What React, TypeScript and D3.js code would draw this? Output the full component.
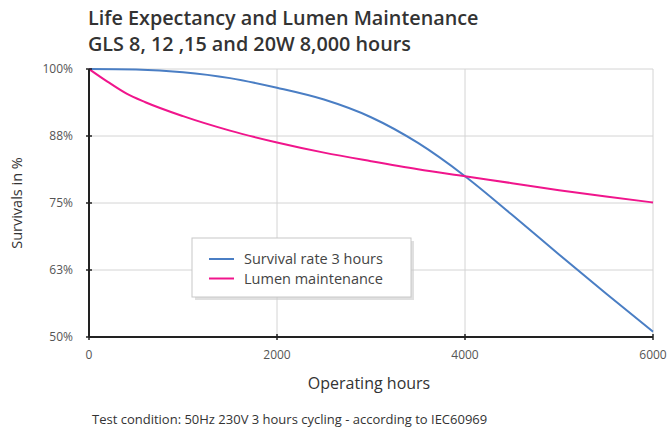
import * as d3 from "d3";
import { useRef, useEffect } from "react";

// hours on the x axis
const survivalHours = [0, 500, 1000, 1500, 2000, 2500, 3000, 3500, 4000, 4500, 5000, 5500, 6000];
const survivalPct = [100, 99.9, 99.4, 98.3, 96.5, 94.3, 91.0, 86.2, 80, 72.8, 65.4, 58.1, 51];

const lumenHours = [0, 200, 400, 600, 1000, 1500, 2000, 2500, 3000, 3500, 4000, 4500, 5000, 5500, 6000];
const lumenPct = [100, 97.6, 95.4, 93.8, 91.2, 88.5, 86.3, 84.4, 82.8, 81.3, 80, 78.7, 77.4, 76.2, 75.1];

const yTicks = [50, 62.5, 75, 87.5, 100];
const xTicks = [0, 2000, 4000, 6000];
const legendLabels = ["Survival rate 3 hours", "Lumen maintenance"];
const seriesColors = ["#4a7ec4", "#f0158c"];

const FONT = "'Open Sans', Lato, sans-serif";

export default function App() {
  const svgRef = useRef<SVGSVGElement | null>(null);

  useEffect(() => {
    const svg = d3.select(svgRef.current);
    svg.selectAll("*").remove();

    const W = 668;
    const H = 429;
    const left = 89, right = 653, top = 69, bottom = 337;

    svg.attr("viewBox", `0 0 ${W} ${H}`).attr("font-family", FONT);
    svg.append("rect").attr("width", W).attr("height", H).attr("fill", "#fff");

    const x = d3.scaleLinear().domain([0, 6000]).range([left, right]);
    const y = d3.scaleLinear().domain([50, 100]).range([bottom, top]);

    // title
    const title = svg.append("g").attr("fill", "#333").attr("font-size", 19.8).attr("font-weight", 600);
    title.append("text").attr("x", 88).attr("y", 25).text("Life Expectancy and Lumen Maintenance");
    title.append("text").attr("x", 88).attr("y", 51).text("GLS 8, 12 ,15 and 20W 8,000 hours");

    // grid
    const grid = svg.append("g").attr("stroke", "#d4d4d4").attr("stroke-width", 1);
    grid.selectAll("line.h")
      .data(yTicks.filter(v => v > 50))
      .join("line")
      .attr("class", "h")
      .attr("x1", left).attr("x2", right)
      .attr("y1", d => y(d)).attr("y2", d => y(d));
    grid.selectAll("line.v")
      .data(xTicks.filter(v => v > 0))
      .join("line")
      .attr("class", "v")
      .attr("y1", top).attr("y2", bottom)
      .attr("x1", d => x(d)).attr("x2", d => x(d));

    // lines
    const line = d3.line<[number, number]>()
      .x(d => x(d[0]))
      .y(d => y(d[1]))
      .curve(d3.curveMonotoneX);

    const series: [number, number][][] = [
      survivalHours.map((h, i) => [h, survivalPct[i]]),
      lumenHours.map((h, i) => [h, lumenPct[i]]),
    ];

    svg.append("g")
      .selectAll("path")
      .data(series)
      .join("path")
      .attr("fill", "none")
      .attr("stroke", (_, i) => seriesColors[i])
      .attr("stroke-width", 2)
      .attr("d", d => line(d));

    // axes
    const axes = svg.append("g").attr("stroke", "#222").attr("stroke-width", 2);
    axes.append("line").attr("x1", left).attr("x2", left).attr("y1", top).attr("y2", bottom);
    axes.append("line").attr("x1", left).attr("x2", right).attr("y1", bottom).attr("y2", bottom);
    axes.selectAll("line.yt")
      .data(yTicks)
      .join("line")
      .attr("class", "yt")
      .attr("stroke-width", 1.5)
      .attr("x1", left - 3).attr("x2", left + 3)
      .attr("y1", d => y(d)).attr("y2", d => y(d));
    axes.selectAll("line.xt")
      .data(xTicks)
      .join("line")
      .attr("class", "xt")
      .attr("stroke-width", 1.5)
      .attr("y1", bottom - 3).attr("y2", bottom + 3)
      .attr("x1", d => x(d)).attr("x2", d => x(d));

    // tick labels
    svg.append("g")
      .attr("font-size", 12)
      .attr("fill", "#555")
      .attr("text-anchor", "end")
      .selectAll("text")
      .data(yTicks)
      .join("text")
      .attr("x", 73)
      .attr("y", d => y(d) + 4)
      .text(d => `${Math.round(d)}%`);

    svg.append("g")
      .attr("font-size", 12)
      .attr("fill", "#555")
      .attr("text-anchor", "middle")
      .selectAll("text")
      .data(xTicks)
      .join("text")
      .attr("x", d => x(d))
      .attr("y", 359)
      .text(d => d);

    // axis titles
    svg.append("text")
      .attr("transform", `translate(22,${(top + bottom) / 2}) rotate(-90)`)
      .attr("text-anchor", "middle")
      .attr("font-size", 14.5)
      .attr("fill", "#333")
      .text("Survivals in %");

    svg.append("text")
      .attr("x", 369)
      .attr("y", 389)
      .attr("text-anchor", "middle")
      .attr("font-size", 16)
      .attr("fill", "#333")
      .text("Operating hours");

    svg.append("text")
      .attr("x", 92)
      .attr("y", 424)
      .attr("font-size", 13)
      .attr("fill", "#333")
      .text("Test condition: 50Hz 230V 3 hours cycling - according to IEC60969");

    // legend box with soft shadow
    const lg = svg.append("g").attr("transform", "translate(192,238)");
    lg.append("rect").attr("x", 3).attr("y", 3).attr("width", 219).attr("height", 59).attr("fill", "#ccc").attr("opacity", 0.6);
    lg.append("rect").attr("width", 219).attr("height", 59).attr("fill", "#fff").attr("stroke", "#c8c8c8");
    const rows = lg.selectAll("g.row")
      .data(legendLabels)
      .join("g")
      .attr("class", "row")
      .attr("transform", (_, i) => `translate(0,${21 + i * 19.5})`);
    rows.append("line")
      .attr("x1", 17).attr("x2", 42)
      .attr("stroke", (_, i) => seriesColors[i])
      .attr("stroke-width", 2);
    rows.append("text")
      .attr("x", 52)
      .attr("y", 5)
      .attr("font-size", 14.5)
      .attr("fill", "#444")
      .text(d => d);
  }, []);

  return (
    <svg
      ref={svgRef}
      width={668}
      height={429}
      style={{ display: "block", position: "absolute", left: 0, top: 0 }}
    />
  );
}
